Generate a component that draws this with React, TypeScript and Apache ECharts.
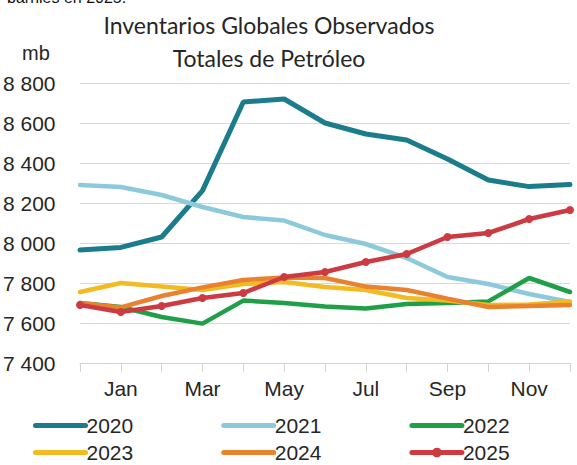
import React, { useEffect, useRef } from "react";
import * as echarts from "echarts";

const months = ["Dec", "Jan", "Feb", "Mar", "Apr", "May", "Jun", "Jul", "Aug", "Sep", "Oct", "Nov", "Dec"];

const s2020 = [7965, 7978, 8030, 8262, 8705, 8720, 8600, 8545, 8515, 8420, 8315, 8282, 8292];
const s2021 = [8290, 8280, 8240, 8180, 8130, 8112, 8040, 7995, 7925, 7830, 7795, 7745, 7705];
const s2022 = [7700, 7680, 7630, 7597, 7712, 7700, 7682, 7672, 7695, 7700, 7708, 7825, 7755];
const s2023 = [7755, 7800, 7783, 7765, 7795, 7805, 7780, 7765, 7725, 7712, 7690, 7692, 7708];
const s2024 = [7700, 7678, 7735, 7778, 7815, 7828, 7825, 7782, 7765, 7722, 7680, 7685, 7690];
const s2025 = [7690, 7655, 7685, 7725, 7750, 7830, 7855, 7905, 7945, 8030, 8050, 8120, 8165];

const seriesNames = ["2020", "2021", "2022", "2023", "2024", "2025"];
const seriesData = [s2020, s2021, s2022, s2023, s2024, s2025];
const colors = ["#1b7c8c", "#8ccadb", "#1fa048", "#f2bb22", "#e8822e", "#cc3a42"];

const fmt = (v: number) => String(v).replace(/\B(?=(\d{3})+(?!\d))/g, " ");

export default function App() {
  const ref = useRef<HTMLDivElement>(null);
  useEffect(() => {
    if (!ref.current) return;
    const chart = echarts.init(ref.current, undefined, { renderer: "svg" });
    const font = "Liberation Sans";
    const series = seriesNames.map((name, i) => ({
      name,
      type: "line",
      data: seriesData[i],
      showSymbol: name === "2025",
      symbol: name === "2025" ? "circle" : "none",
      symbolSize: 8,
      itemStyle: { color: colors[i] },
      lineStyle: { color: colors[i], width: name === "2020" ? 5 : 4.5, cap: "round" },
      z: 2 + i,
    }));
    const legendItem = (name: string) =>
      name === "2025"
        ? { name, itemStyle: { borderWidth: 0 } }
        : { name, itemStyle: { opacity: 0, borderWidth: 0 } };
    const legendCommon = {
      left: 33,
      itemWidth: 50,
      itemHeight: 12,
      itemGap: 88,
      textStyle: { fontFamily: font, fontSize: 21, color: "#262626", padding: [0, 0, 0, -4] },
      lineStyle: { width: 5, cap: "round" },
      padding: 0,
      selectedMode: false,
    };
    chart.setOption({
      animation: false,
      backgroundColor: "#ffffff",
      grid: { left: 78, right: 7, top: 83, bottom: 102, containLabel: false },
      xAxis: {
        type: "category",
        data: months,
        boundaryGap: false,
        axisLine: { show: true, lineStyle: { color: "#d4d4d4", width: 1 } },
        axisTick: { show: true, alignWithLabel: true, interval: 0, length: 9, lineStyle: { color: "#d4d4d4" } },
        axisLabel: {
          interval: (idx: number) => idx % 2 === 1,
          color: "#262626",
          fontFamily: font,
          fontSize: 21,
          margin: 15,
        },
        splitLine: { show: false },
      },
      yAxis: {
        type: "value",
        min: 7400,
        max: 8800,
        interval: 200,
        axisLine: { show: false },
        axisTick: { show: false },
        axisLabel: {
          formatter: (v: number) => fmt(v),
          color: "#262626",
          fontFamily: font,
          fontSize: 21,
          align: "left",
          margin: 77,
        },
        splitLine: { show: true, lineStyle: { color: "#d9d9d9", width: 1 } },
      },
      legend: [
        { ...legendCommon, data: ["2020", "2021", "2022"].map(legendItem), top: 415 },
        { ...legendCommon, data: ["2023", "2024", "2025"].map(legendItem), top: 442 },
      ],
      graphic: [
        {
          type: "text",
          x: 269,
          y: 8,
          style: {
            text: "Inventarios Globales Observados\nTotales de Petróleo",
            fontFamily: "Lato",
            fontSize: 23,
            lineHeight: 33,
            fill: "#262626",
            align: "center",
            textAlign: "center",
          },
        },
        {
          type: "text",
          x: 22,
          y: 43,
          style: { text: "mb", fontFamily: font, fontSize: 20, fill: "#262626" },
        },
        {
          type: "text",
          x: 7,
          y: -11,
          style: { text: "barriles en 2025.", fontFamily: font, fontSize: 16, fill: "#111" },
        },
      ],
      series,
    });
    return () => chart.dispose();
  }, []);
  return <div ref={ref} style={{ position: "fixed", left: 0, top: 0, width: 577, height: 465 }} />;
}
